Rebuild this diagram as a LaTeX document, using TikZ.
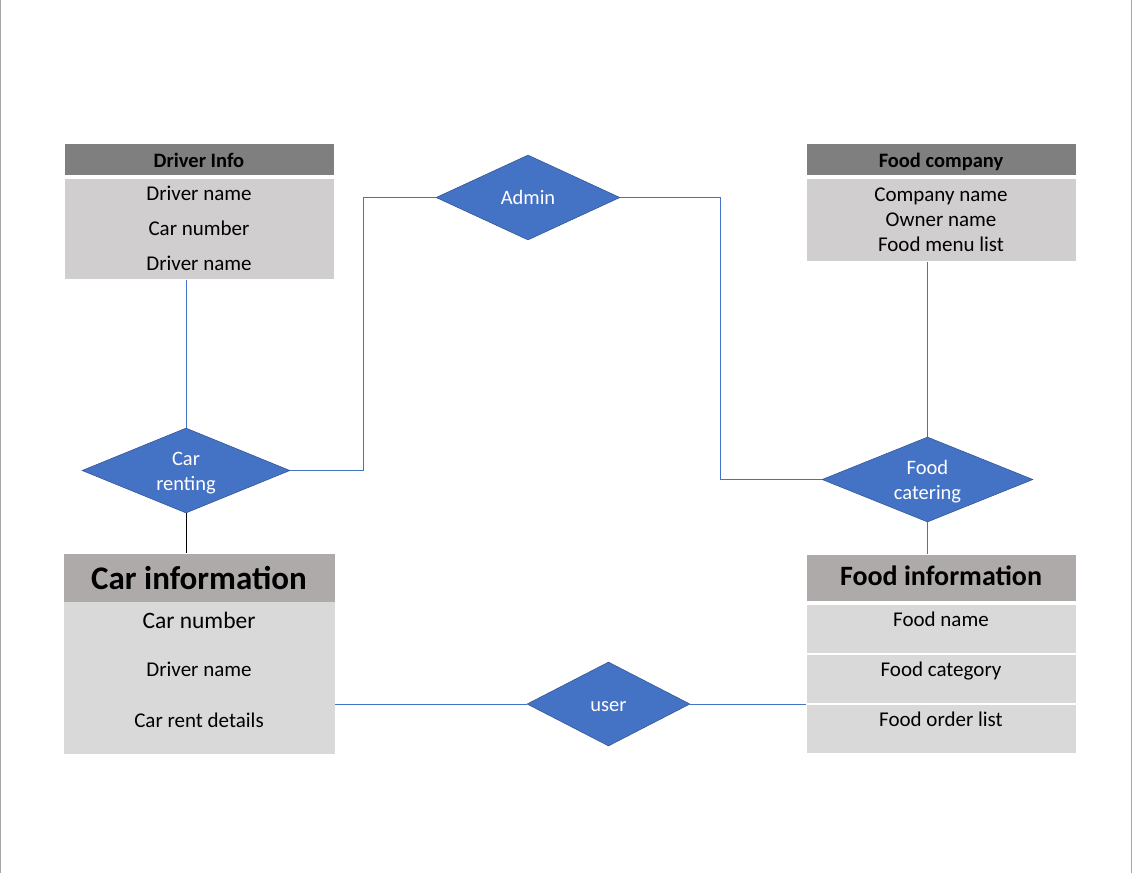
\documentclass[tikz,border=0pt]{standalone}
\usepackage{fontspec}
\setmainfont{Carlito}
\usetikzlibrary{shapes.geometric}
\definecolor{hdark}{HTML}{7F7F7F}
\definecolor{bodyg}{HTML}{D0CECE}
\definecolor{hmid}{HTML}{AEAAAA}
\definecolor{rowg}{HTML}{D9D9D9}
\definecolor{erblue}{HTML}{4472C4}
\definecolor{erborder}{HTML}{2F528F}
\definecolor{pageline}{HTML}{A6A6A6}
\begin{document}
\begin{tikzpicture}[x=1pt,y=-1pt,
  cell/.style={rectangle, draw=white, line width=1.2pt, inner sep=0pt, anchor=north west},
  txt/.style={text=black, inner sep=0pt, text depth=0pt},
  hdrtext/.style={txt, text height=13.3pt, font=\bfseries\fontsize{20.5}{24}\selectfont},
  bigtext/.style={txt, text height=21.5pt, font=\bfseries\fontsize{33}{38}\selectfont},
  midtext/.style={txt, text height=18.2pt, font=\bfseries\fontsize{28}{32}\selectfont},
  celltext/.style={txt, text height=13.6pt, font=\fontsize{21}{25}\selectfont},
  celltextbig/.style={txt, text height=15.3pt, font=\fontsize{23.5}{27}\selectfont},
  rel/.style={diamond, fill=erblue, draw=erborder, line width=0.5pt, inner sep=0pt, aspect=2.3},
  reltext/.style={text=white, inner sep=0pt, anchor=base, font=\fontsize{20.5}{25}\selectfont},
  link/.style={draw=erblue, line width=0.9pt},
  blacklink/.style={draw=black, line width=0.9pt}
]
\useasboundingbox (0,0) rectangle (1132,873);
\draw[pageline, line width=0.8pt] (0.5,0) -- (0.5,873);
\draw[pageline, line width=0.8pt] (1131.5,0) -- (1131.5,873);

% Driver Info
\node[cell, fill=hdark, minimum width=270, minimum height=32] (dih) at (64,143) {};
\node[hdrtext] (diht) at (199,160.5) {Driver Info};
\node[cell, fill=bodyg, minimum width=270, minimum height=101] (dib) at (64,178) {};
\node[celltext] (di1) at (199,194) {Driver name};
\node[celltext] (di2) at (199,228.5) {Car number};
\node[celltext] (di3) at (199,263.5) {Driver name};

% Food company
\node[cell, fill=hdark, minimum width=270, minimum height=32] (fch) at (806,143) {};
\node[hdrtext] (fcht) at (941,161) {Food company};
\node[cell, fill=bodyg, minimum width=270, minimum height=83] (fcb) at (806,178) {};
\node[celltext] (fc1) at (941,195) {Company name};
\node[celltext] (fc2) at (941,220) {Owner name};
\node[celltext] (fc3) at (941,245) {Food menu list};

% Car information
\node[cell, draw=none, fill=hmid, minimum width=271, minimum height=48] (cih) at (63,553) {};
\node[bigtext] (ciht) at (199,578.5) {Car information};
\node[cell, draw=none, fill=rowg, minimum width=271, minimum height=51] (ci1) at (63,601) {};
\node[cell, draw=none, fill=rowg, minimum width=271, minimum height=51] (ci2) at (63,652) {};
\node[cell, draw=none, fill=rowg, minimum width=271, minimum height=50] (ci3) at (63,703) {};
\node[celltextbig] (ci1t) at (199,620.5) {Car number};
\node[celltext] (ci2t) at (199,669.5) {Driver name};
\node[celltext] (ci3t) at (199,720.5) {Car rent details};

% Food information
\node[cell, fill=hmid, minimum width=270, minimum height=47] (fih) at (806,554) {};
\node[midtext] (fiht) at (941,576.5) {Food information};
\node[cell, fill=rowg, minimum width=270, minimum height=49] (fi1) at (806,603.5) {};
\node[cell, fill=rowg, minimum width=270, minimum height=49] (fi2) at (806,653.5) {};
\node[cell, fill=rowg, minimum width=270, minimum height=49] (fi3) at (806,703.5) {};
\node[celltext] (fi1t) at (941,620) {Food name};
\node[celltext] (fi2t) at (941,670) {Food category};
\node[celltext] (fi3t) at (941,720) {Food order list};

% Relationships
\node[rel, minimum width=184, minimum height=85] (admin) at (528,197.5) {};
\node[reltext] (admint) at (528,204) {Admin};
\node[rel, minimum width=208, minimum height=85] (cr) at (186,470.5) {};
\node[reltext] (crt1) at (186,465.5) {Car};
\node[reltext] (crt2) at (186,490.5) {renting};
\node[rel, minimum width=211, minimum height=85] (fcat) at (927.5,479.5) {};
\node[reltext] (fct1) at (927.5,474) {Food};
\node[reltext] (fct2) at (927.5,499) {catering};
\node[rel, minimum width=163, minimum height=84] (user) at (608.5,704) {};
\node[reltext] (usert) at (608.5,711) {user};

% Connectors
\coordinate (k1) at (363,470.5);
\coordinate (k2) at (720,197.5);
\draw[link] (dib.south -| cr.north) -- (cr.north);
\draw[link] (cr.east) -- (k1) |- (admin.west);
\draw[link] (admin.east) -- (k2) |- (fcat.west);
\draw[link] (fcb.south -| fcat.north) -- (fcat.north);
\draw[link] (fcat.south) -- (fcat.south |- fih.north);
\draw[blacklink] (cr.south) -- (cr.south |- cih.north);
\draw[link] (user.west) -- (user.west -| ci3.east);
\draw[link] (user.east) -- (user.east -| fi3.west);
\end{tikzpicture}
\end{document}
